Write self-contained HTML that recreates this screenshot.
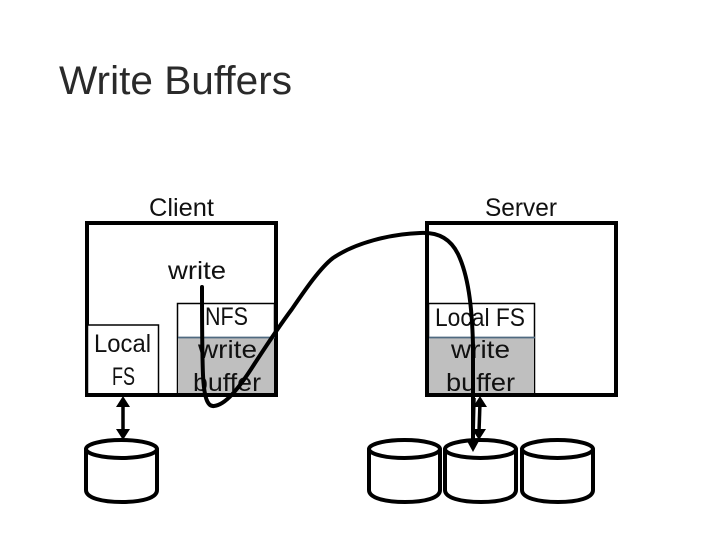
<!DOCTYPE html>
<html><head><meta charset="utf-8"><style>
html,body{margin:0;padding:0;background:#fff;width:720px;height:540px;overflow:hidden}
svg{display:block}
text{font-family:"Liberation Sans",sans-serif;fill:#111;font-size:25px}
.s{fill:none;stroke:#000;stroke-width:4}
</style></head><body>
<svg width="720" height="540" viewBox="0 0 720 540" xmlns="http://www.w3.org/2000/svg">
<defs><g id="cyl">
<path d="M2 11 V52 C2 60 18 64 38 64 C58 64 73 60 73 52 V11" fill="#fff" stroke="#000" stroke-width="4"/>
<ellipse cx="37.500" cy="11" rx="35.500" ry="9" fill="#fff" stroke="#000" stroke-width="4"/>
</g></defs>
<text x="59" y="94" style="font-size:40px;fill:#2a2a2a" textLength="233" lengthAdjust="spacingAndGlyphs">Write Buffers</text>
<text x="149" y="216" textLength="65" lengthAdjust="spacingAndGlyphs">Client</text>
<text x="485" y="216" textLength="72" lengthAdjust="spacingAndGlyphs">Server</text>
<rect x="87" y="223" width="189" height="172" fill="#fff" class="s"/>
<rect x="427" y="223" width="189" height="172" fill="#fff" class="s"/>
<rect x="177.500" y="303.500" width="97" height="90" fill="#fff" stroke="#000" stroke-width="1.500"/>
<rect x="178" y="338" width="96" height="55" fill="#bfbfbf"/>
<line x1="178" y1="337.500" x2="275" y2="337.500" stroke="#4f6a80" stroke-width="1.800"/>
<rect x="428.500" y="303.500" width="106" height="90" fill="#fff" stroke="#000" stroke-width="1.500"/>
<rect x="429" y="338" width="105" height="55" fill="#bfbfbf"/>
<line x1="429" y1="337.500" x2="535" y2="337.500" stroke="#4f6a80" stroke-width="1.800"/>
<rect x="87.500" y="325" width="71" height="69" fill="#fff" stroke="#000" stroke-width="1.500"/>
<line x1="85" y1="395" x2="278" y2="395" stroke="#000" stroke-width="4"/>
<line x1="425" y1="395" x2="618" y2="395" stroke="#000" stroke-width="4"/>
<text x="168" y="279" textLength="58" lengthAdjust="spacingAndGlyphs">write</text>
<text x="94" y="352" textLength="57" lengthAdjust="spacingAndGlyphs">Local</text>
<text x="112" y="385" textLength="23" lengthAdjust="spacingAndGlyphs">FS</text>
<text x="205" y="325" textLength="43" lengthAdjust="spacingAndGlyphs">NFS</text>
<text x="198" y="358" textLength="59" lengthAdjust="spacingAndGlyphs">write</text>
<text x="193" y="391" textLength="68" lengthAdjust="spacingAndGlyphs">buffer</text>
<text x="435" y="326" textLength="90" lengthAdjust="spacingAndGlyphs">Local FS</text>
<text x="451" y="358" textLength="59" lengthAdjust="spacingAndGlyphs">write</text>
<text x="446" y="391" textLength="69" lengthAdjust="spacingAndGlyphs">buffer</text>
<use href="#cyl" x="84" y="438"/>
<use href="#cyl" x="367" y="438"/>
<use href="#cyl" x="443" y="438"/>
<use href="#cyl" x="520" y="438"/>
<g stroke="#000" stroke-width="3.500" fill="#000">
<line x1="123" y1="403" x2="123" y2="432"/>
<path d="M123 396 L116 407 H130 Z" stroke="none"/>
<path d="M123 440 L116 429 H130 Z" stroke="none"/>
<line x1="480" y1="402" x2="479" y2="432"/>
<path d="M480 396 L473 407 H487 Z" stroke="none"/>
<path d="M479 440 L472 429 H486 Z" stroke="none"/>
<line x1="474" y1="398" x2="473" y2="440"/>
</g>
<path d="M202 287 C202 320 202 350 203 375 C204 396 207 407 214 406 C225 405 238 390 255 363 C270 340 280 325 292 309 C305 290 320 268 333 258 C355 243 390 234 420 233 C440 232 451 240 458 254 C468 275 472 305 473 345 L473 445" fill="none" stroke="#000" stroke-width="4" stroke-linecap="round"/>
<path d="M473 452 L467 441 H479 Z" fill="#000"/>
</svg>
</body></html>
